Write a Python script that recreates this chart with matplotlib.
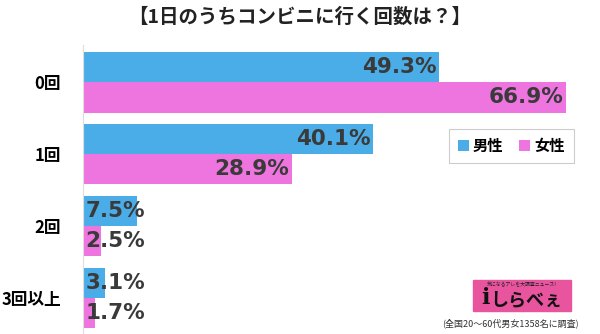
import matplotlib
matplotlib.use('Agg')
import matplotlib.pyplot as plt
from matplotlib.patches import Rectangle

plt.rcParams['font.family'] = ['Noto Sans CJK JP', 'DejaVu Sans']

title = '【1日のうちコンビニに行く回数は？】'
categories = ['0回', '1回', '2回', '3回以上']
male = [49.3, 40.1, 7.5, 3.1]
female = [66.9, 28.9, 2.5, 1.7]
series_names = ['男性', '女性']
note = '(全国20〜60代男女1358名に調査)'

blue = '#4AADE8'
pink = '#EE74E0'
txt = '#3a3a3a'

fig = plt.figure(figsize=(6, 3.34), dpi=100)
ax = fig.add_axes([83 / 600, 0, 517 / 600, 289 / 334])

h = 0.42
ys = list(range(len(categories)))
b1 = ax.barh([y - h / 2 for y in ys], male, height=h, color=blue, label=series_names[0])
b2 = ax.barh([y + h / 2 for y in ys], female, height=h, color=pink, label=series_names[1])

ax.set_xlim(0, 517 / 7.22)
ax.set_ylim(3.5, -0.52)

for bars, vals in ((b1, male), (b2, female)):
    for bar, v in zip(bars, vals):
        yc = bar.get_y() + bar.get_height() / 2
        if v > 10:
            ax.text(v - 0.3, yc, f'{v}%', ha='right', va='center', fontsize=15.5,
                    fontweight='bold', color=txt, family='DejaVu Sans')
        else:
            ax.text(0.3, yc, f'{v}%', ha='left', va='center', fontsize=15.5,
                    fontweight='bold', color=txt, family='DejaVu Sans')

ax.set_yticks(ys)
ax.set_yticklabels(categories, fontsize=12, fontweight='bold')
ax.tick_params(axis='y', length=0, pad=16)
ax.set_xticks([])
for s in ('top', 'right', 'bottom'):
    ax.spines[s].set_visible(False)
ax.spines['left'].set_color('#dddddd')

leg = ax.legend(loc='upper left', bbox_to_anchor=(358 / 517, 1 - 76 / 289), ncol=2,
                prop={'weight': 'bold', 'size': 11}, handlelength=0.7,
                handleheight=0.7, handletextpad=0.3, columnspacing=1.0,
                fancybox=False, framealpha=1, borderpad=0.6)
leg.get_frame().set_edgecolor('#cccccc')
leg.get_frame().set_linewidth(0.8)

fig.text(0.5, 1 - 17 / 334, title, ha='center', va='center', fontsize=14,
         fontweight='bold', color='#222222')

# site badge
fig.patches.append(Rectangle((473 / 600, 1 - 311 / 334), 98 / 600, 31 / 334,
                             transform=fig.transFigure, color='#E8559E', zorder=5))
fig.text(522 / 600, 1 - 285 / 334, '気になるアレを大調査ニュース!', ha='center', va='center',
         fontsize=3.5, color='#222222', zorder=6)
fig.text(526 / 600, 1 - 300 / 334, 'しらべぇ', ha='center', va='center',
         fontsize=13, fontweight='bold', color='#111111', zorder=6)
fig.text(485 / 600, 1 - 298 / 334, 'i', ha='center', va='center',
         fontsize=16, fontweight='bold', color='#111111', zorder=6, family='DejaVu Serif')
fig.text(510 / 600, 1 - 323 / 334, note, ha='center', va='center', fontsize=6.5,
         color='#333333')

fig.savefig('out.png', dpi=100)
